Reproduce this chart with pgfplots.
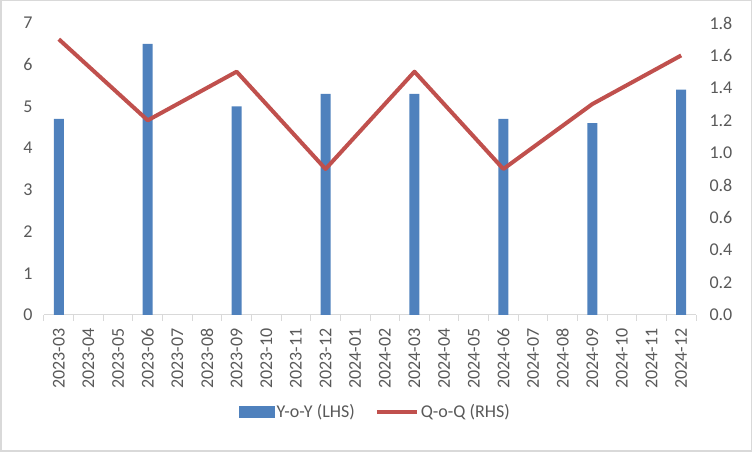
\documentclass[border=0pt]{standalone}
\usepackage{pgfplots}
\pgfplotsset{compat=1.18}
\usepackage{fontspec}
\setmainfont{Carlito}
\definecolor{barblue}{HTML}{4F81BD}
\definecolor{linered}{HTML}{C0504D}
\definecolor{txt}{HTML}{595959}
\definecolor{axgray}{HTML}{D9D9D9}
\pgfplotsset{
  common/.style={
    at={(44pt,137pt)}, anchor=south west, scale only axis,
    width=652pt, height=292pt,
    xmin=-0.5, xmax=21.5,
    /pgf/number format/assume math mode=true,
    tick label style={font=\fontsize{18}{21}\selectfont, text=txt},
  },
  barlegend/.style={legend image code/.code={\fill[barblue] (0pt,-6pt) rectangle (36pt,6pt);}},
  linelegend/.style={legend image code/.code={\draw[linered, line width=4pt] (0pt,0pt) -- (40pt,0pt);}},
}
\begin{document}
\begin{tikzpicture}
\draw[axgray, line width=1.5pt] (0.75pt,0.75pt) rectangle (751.25pt,451.25pt);
\begin{axis}[common,
  ymin=0, ymax=7, ytick={0,1,...,7},
  axis x line*=bottom, axis y line*=left,
  y axis line style={draw=none},
  ytick style={draw=none},
  yticklabel style={xshift=-8pt},
  x axis line style={axgray, line width=1pt, -},
  xtick={-0.5,0.5,...,21.5},
  x tick label as interval,
  xticklabels={2023-03,2023-04,2023-05,2023-06,2023-07,2023-08,2023-09,2023-10,2023-11,2023-12,2024-01,2024-02,2024-03,2024-04,2024-05,2024-06,2024-07,2024-08,2024-09,2024-10,2024-11,2024-12},
  xticklabel style={rotate=90, anchor=east, yshift=0pt, xshift=-4pt},
  xtick style={axgray, line width=1pt},
  xtick align=outside, major tick length=6pt,
  legend columns=2,
  legend style={at={(0.508,-0.332)}, anchor=center, draw=none, fill=none,
    font=\fontsize{18}{21}\selectfont, text=txt,
    /tikz/every even column/.append style={column sep=18pt}},
]
\addplot[ybar, bar width=10pt, fill=barblue, draw=none, barlegend]
  coordinates {(0,4.7) (3,6.5) (6,5.0) (9,5.3) (12,5.3) (15,4.7) (18,4.6) (21,5.4)};
\addlegendentry{Y-o-Y (LHS)}
\addlegendimage{linered, line width=4pt, linelegend}
\addlegendentry{Q-o-Q (RHS)}
\end{axis}
\begin{axis}[common,
  ymin=0, ymax=1.8, ytick={0,0.2,...,1.8},
  axis x line=none, axis y line*=right,
  y axis line style={draw=none},
  ytick style={draw=none},
  yticklabel style={xshift=10pt, /pgf/number format/.cd, fixed, fixed zerofill, precision=1},
]
\addplot[linered, line width=4pt, line join=round]
  coordinates {(0,1.7) (3,1.2) (6,1.5) (9,0.9) (12,1.5) (15,0.9) (18,1.3) (21,1.6)};
\end{axis}
\end{tikzpicture}
\end{document}
